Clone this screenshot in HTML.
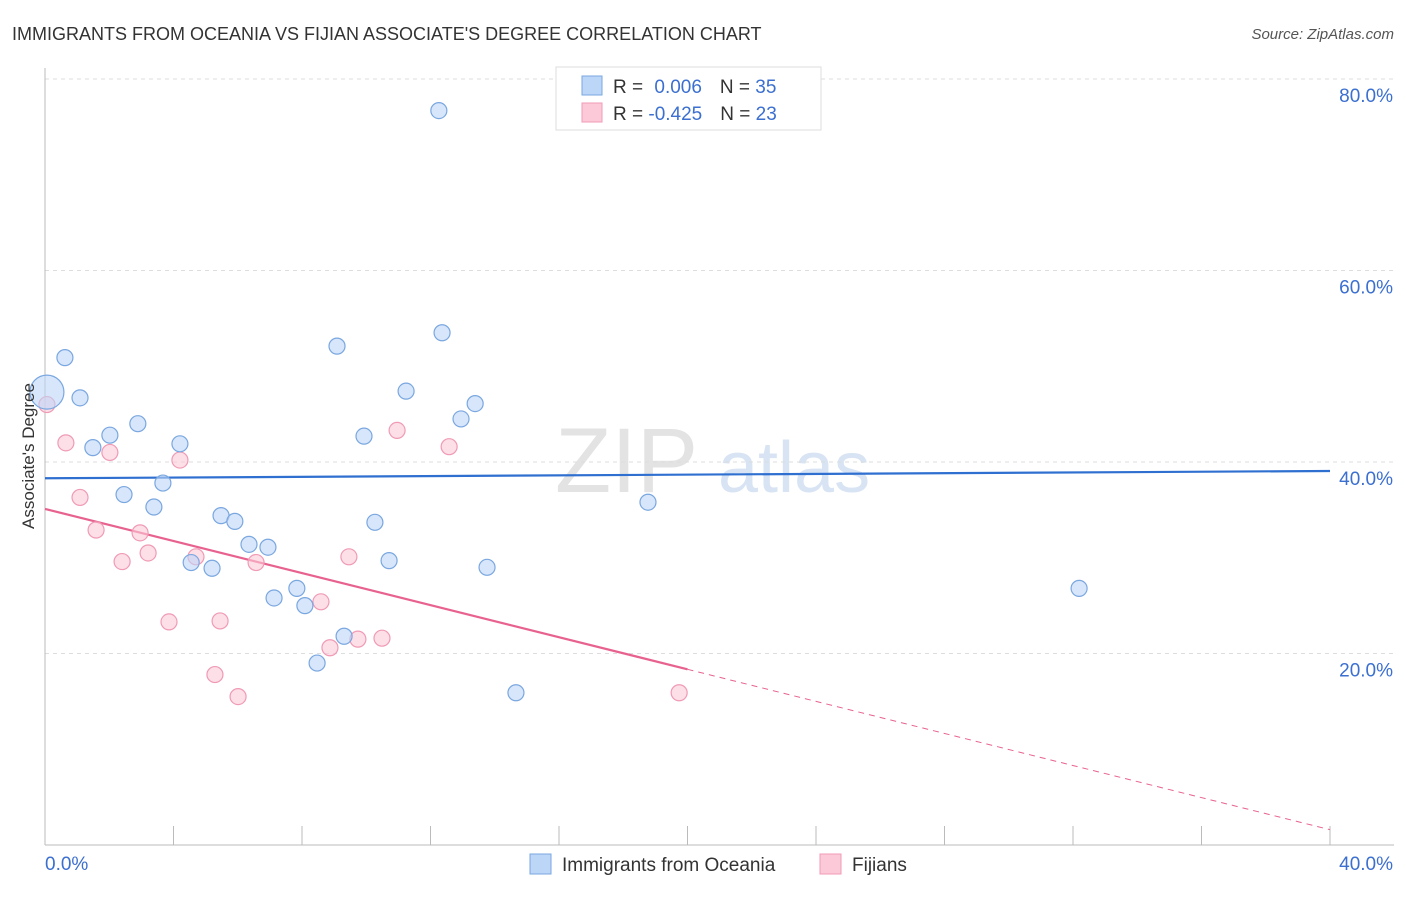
<!DOCTYPE html>
<html><head><meta charset="utf-8"><style>
body{margin:0;background:#fff;font-family:"Liberation Sans",sans-serif;}
svg text{font-family:"Liberation Sans",sans-serif;}
</style></head><body>
<svg id="chart" width="1406" height="892" viewBox="0 0 1406 892">
<text x="12" y="40" font-size="18" fill="#333">IMMIGRANTS FROM OCEANIA VS FIJIAN ASSOCIATE'S DEGREE CORRELATION CHART</text>
<text x="1394" y="39" font-size="15" fill="#555" text-anchor="end" font-style="italic">Source: ZipAtlas.com</text>
<g><text x="555" y="492" font-size="92" fill="#ddd" font-family="Liberation Serif" opacity="0.8">ZIP</text><text x="718" y="492" font-size="72" fill="#c8daf0" opacity="0.7">atlas</text></g>
<g id="grid"></g>
<g id="axes"></g>
<g id="trends"></g>
<g id="points"></g>
<text transform="translate(34,456) rotate(-90)" font-size="17" fill="#333" text-anchor="middle">Associate's Degree</text>
<g>
<rect x="556" y="67" width="265" height="63" fill="#fff" stroke="#ddd"/>
<rect x="582" y="76" width="20" height="19" fill="#bcd6f7" stroke="#7aa7e0"/>
<rect x="582" y="103" width="20" height="19" fill="#fcc9d8" stroke="#f09ab5"/>
<text x="613" y="93" font-size="19" fill="#333">R = <tspan fill="#3b6fd0" dx="6">0.006</tspan><tspan dx="18" fill="#333">N = </tspan><tspan fill="#3b6fd0">35</tspan></text>
<text x="613" y="120" font-size="19" fill="#333">R = <tspan fill="#3b6fd0">-0.425</tspan><tspan dx="18" fill="#333">N = </tspan><tspan fill="#3b6fd0">23</tspan></text>
</g>
<g>
<rect x="530" y="854" width="21" height="20" fill="#bcd6f7" stroke="#7aa7e0"/>
<text x="562" y="871" font-size="19" fill="#333">Immigrants from Oceania</text>
<rect x="820" y="854" width="21" height="20" fill="#fcc9d8" stroke="#f09ab5"/>
<text x="852" y="871" font-size="19" fill="#333">Fijians</text>
</g>
</svg>
<script>
const xTicks=[0,4,8,12,16,20,24,28,32,36,40];
const yTicks=[20,40,60,80];
const yTickLabels=["20.0%","40.0%","60.0%","80.0%"];
const blueX=[0.06,0.62,1.09,1.49,2.02,2.46,2.89,3.39,3.67,4.20,4.55,5.20,5.48,5.91,6.35,6.94,7.13,7.84,8.09,8.47,9.09,9.31,9.93,10.27,10.71,11.24,12.26,12.36,12.95,13.39,13.76,14.66,18.15,18.77,32.19];
const blueY=[47.3,50.9,46.7,41.5,42.8,36.6,44.0,35.3,37.8,41.9,29.5,28.9,34.4,33.8,31.4,31.1,25.8,26.8,25.0,19.0,52.1,21.8,42.7,33.7,29.7,47.4,76.7,53.5,44.5,46.1,29.0,15.9,79.7,35.8,26.8];
const pinkX=[0.06,0.65,1.09,1.59,2.02,2.40,2.96,3.21,3.86,4.20,4.70,5.29,5.45,6.01,6.57,8.59,8.87,9.46,9.74,10.49,10.96,12.58,19.74];
const pinkY=[46.0,42.0,36.3,32.9,41.0,29.6,32.6,30.5,23.3,40.2,30.1,17.8,23.4,15.5,29.5,25.4,20.6,30.1,21.5,21.6,43.3,41.6,15.9];
const blueTrend=[38.3,39.06];
const pinkTrend=[35.1,1.6];
const pinkSolidEnd=20;
const NS='http://www.w3.org/2000/svg';
const X=v=>45+v/40*1285, Y=v=>845-v/20*191.5;
function mk(p,t,a){const e=document.createElementNS(NS,t);for(const k in a)e.setAttribute(k,a[k]);p.appendChild(e);return e;}
const grid=document.getElementById('grid'),axes=document.getElementById('axes'),tr=document.getElementById('trends'),pts=document.getElementById('points');
yTicks.forEach((v,i)=>{
 const l=mk(grid,'line',{x1:45,x2:1394,y1:Y(v),y2:Y(v),stroke:'#ddd','stroke-dasharray':'4,4'});
 
 const t=mk(axes,'text',{x:1393,y:Y(v)+23,'font-size':19,fill:'#3b6fd0','text-anchor':'end'});t.textContent=yTickLabels[i];
 
});
mk(axes,'line',{x1:45,x2:45,y1:68,y2:845,stroke:'#bbb'});
mk(axes,'line',{x1:45,x2:1394,y1:845,y2:845,stroke:'#bbb'});
xTicks.forEach(v=>{const l=mk(axes,'line',{x1:X(v),x2:X(v),y1:826,y2:845,stroke:'#bbb'});
 });
let t=mk(axes,'text',{x:45,y:870,'font-size':19,fill:'#3b6fd0'});t.textContent='0.0%';

t=mk(axes,'text',{x:1393,y:870,'font-size':19,fill:'#3b6fd0','text-anchor':'end'});t.textContent='40.0%';

function draw(xs,ys,fill,stroke,name){xs.forEach((x,i)=>{const r=(i===0&&name==='blue-point')?17:8;
 const c=mk(pts,'circle',{cx:X(x),cy:Y(ys[i]),r:r,fill:fill,'fill-opacity':0.6,stroke:stroke,'stroke-width':1.2});
 });}
draw(pinkX,pinkY,'#fcc9d8','#f09ab5','pink-point');
draw(blueX,blueY,'#bcd6f7','#7aa7e0','blue-point');
let l=mk(tr,'line',{x1:X(0),x2:X(40),y1:Y(blueTrend[0]),y2:Y(blueTrend[1]),stroke:'#2f6fd0','stroke-width':2.2});

const pAt=x=>pinkTrend[0]+(pinkTrend[1]-pinkTrend[0])*x/40;
l=mk(tr,'line',{x1:X(0),x2:X(pinkSolidEnd),y1:Y(pAt(0)),y2:Y(pAt(pinkSolidEnd)),stroke:'#e8628f','stroke-width':2.2});

l=mk(tr,'line',{x1:X(pinkSolidEnd),x2:X(40),y1:Y(pAt(pinkSolidEnd)),y2:Y(pAt(40)),stroke:'#e8628f','stroke-width':1,'stroke-dasharray':'6,5'});

</script>
</body></html>
